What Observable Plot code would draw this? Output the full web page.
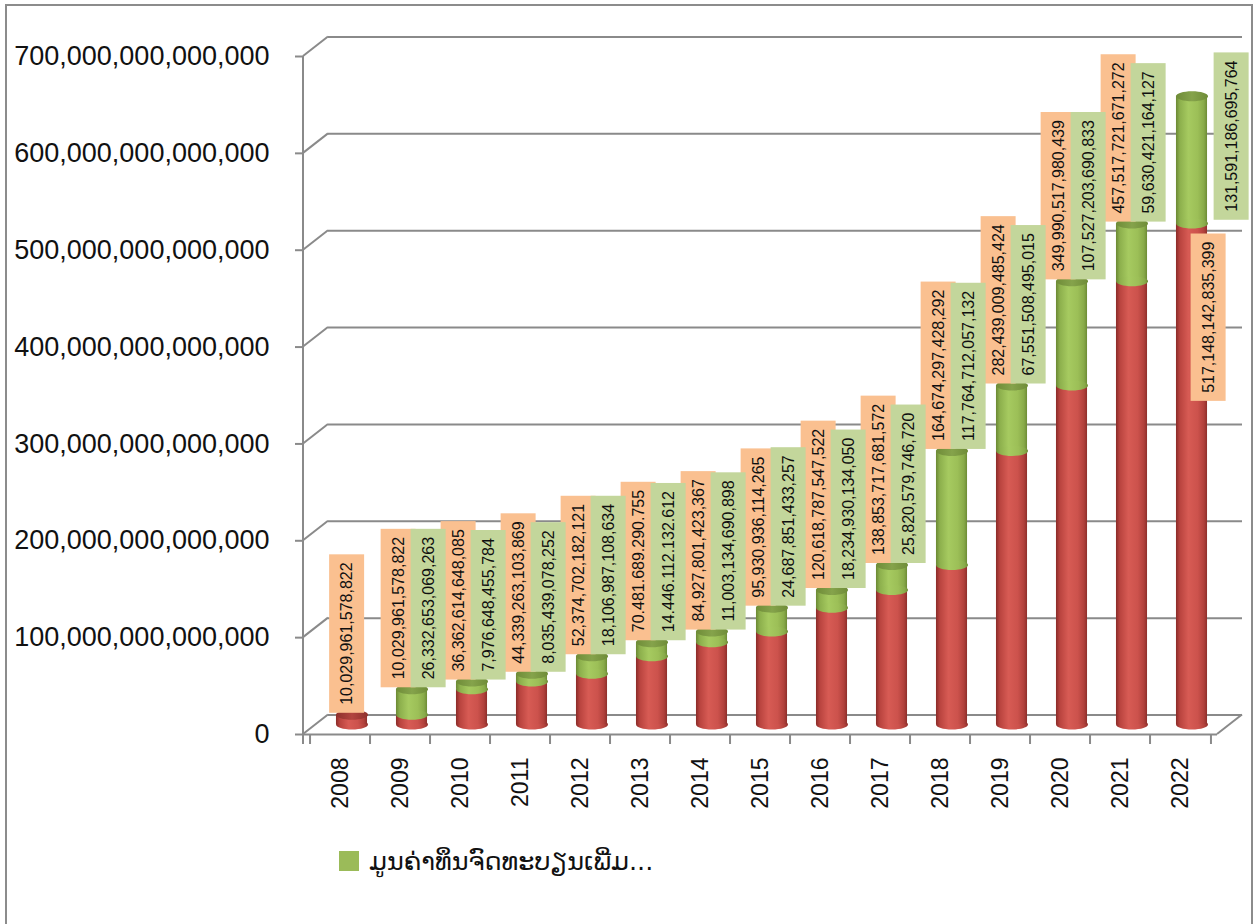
<!DOCTYPE html>
<html>
<head>
<meta charset="utf-8">
<script src="https://cdn.jsdelivr.net/npm/d3@7"></script>
<script src="https://cdn.jsdelivr.net/npm/@observablehq/plot@0.6"></script>
<style>
  html, body { margin: 0; padding: 0; background: #fff; }
  body { width: 1259px; height: 924px; position: relative; overflow: hidden; font-family: "Liberation Sans", Arial, sans-serif; }
  #frame { position: absolute; left: 5px; top: 4px; width: 1248px; height: 930px; border: 2px solid #8c8c8c; box-sizing: border-box; }
  #chart { position: absolute; left: 0; top: 0; }
  #legend { position: absolute; left: 339px; top: 846px; display: flex; align-items: center; }
  #legend .sw { width: 20px; height: 20px; background: #9BBB59; display: inline-block; }
  #legend .lbl { margin-left: 10px; font-family: "DejaVu Sans", sans-serif; font-size: 25.5px; color: #111; white-space: nowrap; line-height: 30px; }
</style>
</head>
<body>
<div id="frame"></div>
<div id="chart"></div>
<div id="legend"><span class="sw"></span><span class="lbl"></span></div>
<script>
// ---------------- data ----------------
const years = [2008, 2009, 2010, 2011, 2012, 2013, 2014, 2015, 2016, 2017, 2018, 2019, 2020, 2021, 2022];
const baseValues = [
  10029961578822, 10029961578822, 36362614648085, 44339263103869, 52374702182121,
  70481689290755, 84927801423367, 95930936114265, 120618787547522, 138853717681572,
  164674297428292, 282439009485424, 349990517980439, 457517721671272, 517148142835399
];
const addedValues = [
  null, 26332653069263, 7976648455784, 8035439078252, 18106987108634,
  14446112132612, 11003134690898, 24687851433257, 18234930134050, 25820579746720,
  117764712057132, 67551508495015, 107527203690833, 59630421164127, 131591186695764
];
const yTicks = [0, 100e12, 200e12, 300e12, 400e12, 500e12, 600e12, 700e12];
const periodSeparatedYears = [2013];
const legendLabel = "ມູນຄ່າທຶນຈົດທະບຽນເພີ່ມ...";

// ---------------- layout ----------------
const W = 1259, H = 820, mL = 303, mR = 42, mT = 56, mB = 86;
const depthX = 25, depthY = -19.5;      // 3-D back-wall offset
const barDx = 11.5, barDy = -10;        // cylinders sit mid-depth
const GRID = "#8a8a8a";
const ORANGE_TEXT = "#101010", GREEN_TEXT = "#0f0f0f";
const bw = (W - mL - mR) / years.length;
const barW = 32;
const yMax = d3.max(yTicks);
const yPx = d3.scaleLinear([0, yMax], [H - mB, mT]);

const fmt = d3.format(",.0f");
const fmtLabel = (v, year) => periodSeparatedYears.includes(year) ? fmt(v).replace(/,/g, ".") : fmt(v);
const LABEL_FONT = 16, LABEL_PAD = 8, LABEL_THICK = 35;
const textLen = s => [...s].reduce((w, c) => w + (/\d/.test(c) ? 0.556 : 0.278), 0) * LABEL_FONT;
const labelDy = -20, topLimit = 50;

const rows = years.map((year, i) => {
  const base = baseValues[i], added = addedValues[i];
  const r = {year, base, added, total: base + (added ?? 0)};
  r.baseText = fmtLabel(base, year);
  r.addedText = added == null ? null : fmtLabel(added, year);
  const longest = Math.max(textLen(r.baseText), r.addedText ? textLen(r.addedText) : 0);
  r.clamped = yPx(r.total) + labelDy - longest - LABEL_PAD < topLimit;
  return r;
});
const greenRows = rows.filter(r => r.added != null);

// ellipse symbol for cylinder caps
const ellipse = (rx, ry) => ({
  draw(ctx) {
    const k = 0.5523;
    ctx.moveTo(-rx, 0);
    ctx.bezierCurveTo(-rx, -ry * k, -rx * k, -ry, 0, -ry);
    ctx.bezierCurveTo(rx * k, -ry, rx, -ry * k, rx, 0);
    ctx.bezierCurveTo(rx, ry * k, rx * k, ry, 0, ry);
    ctx.bezierCurveTo(-rx * k, ry, -rx, ry * k, -rx, 0);
    ctx.closePath();
  }
});
const cap = ellipse(barW / 2, 5);

// 3-D frame lines (left diagonals, axis line, floor corner)
function frameLines(index, scales, values, dims) {
  const y = (scales && scales.y) || yPx;
  const d = dims || {marginLeft: mL, marginRight: mR, width: W};
  const x0 = d.marginLeft, x1 = d.width - d.marginRight;
  const y0 = y(0), yT = y(yMax);
  const g = d3.create("svg:g").attr("stroke", GRID).attr("stroke-width", 2).attr("fill", "none");
  for (const t of yTicks) {
    g.append("line").attr("x1", x0).attr("y1", y(t)).attr("x2", x0 + depthX).attr("y2", y(t) + depthY);
  }
  g.append("line").attr("x1", x0).attr("x2", x0).attr("y1", yT).attr("y2", y0 + 10);
  g.append("line").attr("x1", x1).attr("y1", y0).attr("x2", x1 + depthX).attr("y2", y0 + depthY);
  return g.node();
}

const barOpts = {x: "year", insetLeft: (bw - barW) / 2, insetRight: (bw - barW) / 2, dx: barDx, dy: barDy};
const capOpts = {x: "year", symbol: cap, stroke: "none", dx: barDx, dy: barDy};
const txt = {x: "year", rotate: -90, fontSize: LABEL_FONT, lineAnchor: "middle"};

const svg = Plot.plot({
  width: W, height: H,
  marginLeft: mL, marginRight: mR, marginTop: mT, marginBottom: mB,
  style: {fontFamily: "'Liberation Sans', Arial, sans-serif", background: "transparent", overflow: "visible", color: "#111"},
  x: {type: "band", domain: years, padding: 0},
  y: {domain: [0, yMax]},
  marks: [
    // back-wall gridlines
    Plot.ruleY(yTicks, {dx: depthX, dy: depthY, stroke: GRID, strokeWidth: 2}),
    frameLines,
    Plot.ruleY([0], {stroke: GRID, strokeWidth: 2}),
    // axes
    Plot.axisY({ticks: yTicks, tickFormat: fmt, tickSize: 8, tickPadding: 26, fontSize: 27, stroke: GRID, strokeWidth: 2, fill: "#111", label: null}),
    Plot.axisX({tickSize: 0, tickPadding: 23, tickRotate: -90, tickFormat: d => String(d), fontSize: 23, fill: "#111", label: null}),
    Plot.axisX({tickSize: 10, tickFormat: () => "", dx: -bw / 2, stroke: GRID, strokeWidth: 2, label: null}),
    Plot.axisX({ticks: [years[years.length - 1]], tickSize: 10, tickFormat: () => "", dx: bw / 2, stroke: GRID, strokeWidth: 2, label: null}),
    // cylinders: red base
    Plot.dot(rows, {...capOpts, y: () => 0, fill: "url(#gRed)"}),
    Plot.barY(rows, {...barOpts, y1: () => 0, y2: "base", fill: "url(#gRed)"}),
    Plot.dot(rows.filter(r => r.added == null), {...capOpts, y: "base", fill: "url(#gRedTop)"}),
    // cylinders: green added
    Plot.barY(greenRows, {...barOpts, y1: "base", y2: "total", fill: "url(#gGreen)"}),
    Plot.dot(greenRows, {...capOpts, y: "base", fill: "url(#gGreen)"}),
    Plot.dot(greenRows, {...capOpts, y: "total", fill: "url(#gGreenTop)"}),
    // data labels — base (orange boxes)
    Plot.text(rows.filter(r => r.added != null && !r.clamped), {...txt, y: "total", text: "baseText", textAnchor: "start", dx: -2, dy: labelDy, fill: ORANGE_TEXT}),
    Plot.text(rows.filter(r => r.added == null), {...txt, y: "total", text: "baseText", textAnchor: "start", dx: 6.5, dy: labelDy, fill: ORANGE_TEXT}),
    Plot.text(rows.filter(r => r.clamped), {...txt, y: "base", text: "baseText", textAnchor: "end", dx: 28, dy: 8, fill: ORANGE_TEXT}),
    // data labels — added (green boxes)
    Plot.text(greenRows.filter(r => !r.clamped), {...txt, y: "total", text: "addedText", textAnchor: "start", dx: 28, dy: labelDy, fill: GREEN_TEXT}),
    Plot.text(greenRows.filter(r => r.clamped), {...txt, y: () => yMax, text: "addedText", textAnchor: "end", dx: 51, dy: 4, fill: GREEN_TEXT})
  ]
});

// gradients for the cylinder shading
const defs = d3.select(svg).insert("defs", ":first-child");
function grad(id, stops) {
  const lg = defs.append("linearGradient").attr("id", id).attr("x1", 0).attr("x2", 1).attr("y1", 0).attr("y2", 0);
  stops.forEach(([o, c]) => lg.append("stop").attr("offset", o).attr("stop-color", c));
}
grad("gRed", [[0, "#8a2b28"], [0.12, "#b8433e"], [0.4, "#d75b54"], [0.7, "#cc524c"], [0.9, "#b0403b"], [1, "#8e2f2b"]]);
grad("gRedTop", [[0, "#8e302c"], [0.5, "#b2453f"], [1, "#8e302c"]]);
grad("gGreen", [[0, "#6b8833"], [0.12, "#8caf4c"], [0.4, "#a6ca60"], [0.7, "#9cbf57"], [0.9, "#88aa49"], [1, "#6d8b35"]]);
grad("gGreenTop", [[0, "#6f8c38"], [0.5, "#85a34b"], [1, "#6f8c38"]]);

document.getElementById("chart").appendChild(svg);

// label background boxes, sized from each text's own box
const NS = "http://www.w3.org/2000/svg";
[[ORANGE_TEXT, "#FAC090"], [GREEN_TEXT, "#C3D69B"]].forEach(([textFill, boxFill]) => {
  svg.querySelectorAll("text").forEach(t => {
    const g = t.parentNode;
    const f = (g.getAttribute && g.getAttribute("fill")) || t.getAttribute("fill");
    if (f !== textFill) return;
    const b = t.getBBox();
    const r = document.createElementNS(NS, "rect");
    r.setAttribute("x", b.x - LABEL_PAD);
    r.setAttribute("y", b.y + b.height / 2 - LABEL_THICK / 2);
    r.setAttribute("width", b.width + 2 * LABEL_PAD);
    r.setAttribute("height", LABEL_THICK);
    r.setAttribute("fill", boxFill);
    r.setAttribute("stroke", "none");
    const tr = t.getAttribute("transform");
    if (tr) r.setAttribute("transform", tr);
    g.insertBefore(r, t);
  });
});

document.querySelector("#legend .lbl").textContent = legendLabel;
</script>
</body>
</html>
